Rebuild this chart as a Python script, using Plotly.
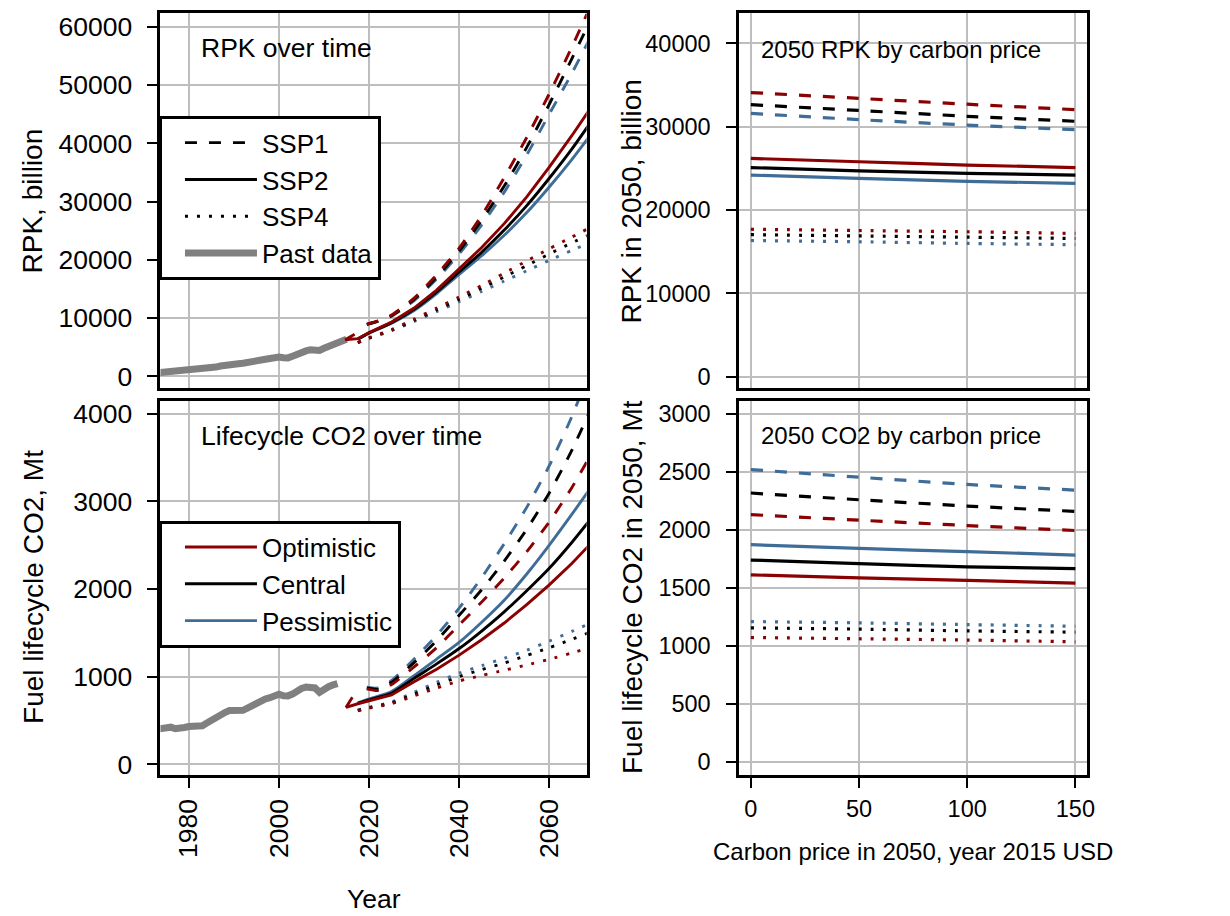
import plotly.graph_objects as go

# ---------------- data ----------------
past_years_rpk = list(range(1973, 2016))
past_rpk = [580, 640, 690, 750, 820, 900, 980, 1020, 1080, 1130, 1200, 1380, 1480, 1580,
            1760, 1920, 2050, 2150, 2130, 2220, 2300, 2450, 2620, 2780, 2920, 3050, 3200,
            3310, 3180, 3150, 3450, 3850, 4130, 4350, 4550, 4520, 4440, 4800, 5120, 5400,
            5700, 6000, 6350]
past_years_co2 = list(range(1973, 2014))
past_co2 = [400, 405, 410, 423, 405, 405, 420, 430, 428, 428, 440, 470, 505, 540, 565, 590,
            612, 610, 598, 615, 640, 670, 700, 725, 745, 760, 780, 800, 782, 780, 800, 835,
            865, 880, 885, 870, 820, 865, 885, 905, 920]

years_ssp1 = [2019.5, 2022, 2025, 2030, 2035, 2040, 2045, 2050, 2055, 2060, 2065, 2070]
years_ssp2 = [2017.5, 2020, 2025, 2030, 2035, 2040, 2045, 2050, 2055, 2060, 2065, 2070]
years_ssp4 = [2017.5, 2020, 2025, 2030, 2035, 2040, 2045, 2050, 2055, 2060, 2065, 2070]
hook_years_rpk = [2016.8, 2014.7]
hook_rpk = [7200, 6270]
hook_years_co2 = [2016.3, 2014.9]
hook_co2 = [765, 650]

# RPK over time (billion)
rpk_ssp1 = {
    "Optimistic": [8950, 9500, 10500, 13400, 17400, 22000, 27600, 34100, 41000, 48500, 56500, 65000],
    "Central": [8900, 9450, 10400, 13200, 17000, 21500, 26800, 32650, 39300, 46700, 54500, 62500],
    "Pessimistic": [8850, 9400, 10300, 13000, 16700, 21000, 26000, 31600, 38000, 45000, 52000, 59500],
}
rpk_ssp2 = {
    "Optimistic": [6450, 7500, 9300, 11700, 14800, 18400, 22100, 26200, 30800, 35900, 41300, 47000],
    "Central": [6400, 7450, 9200, 11500, 14500, 17900, 21300, 25100, 29300, 34000, 39000, 44500],
    "Pessimistic": [6350, 7400, 9100, 11300, 14200, 17500, 20700, 24200, 28100, 32500, 37200, 42300],
}
rpk_ssp4 = {
    "Optimistic": [5800, 6600, 8000, 9800, 11700, 13600, 15600, 17700, 19800, 21900, 23900, 25900],
    "Central": [5780, 6550, 7900, 9600, 11400, 13200, 15100, 17050, 19000, 21000, 22900, 24700],
    "Pessimistic": [5750, 6500, 7800, 9400, 11100, 12800, 14550, 16350, 18100, 19900, 21600, 23300],
}
# Lifecycle CO2 over time (Mt)
co2_ssp1 = {
    "Optimistic": [860, 840, 910, 1110, 1330, 1590, 1850, 2125, 2425, 2765, 3155, 3600],
    "Central": [870, 855, 935, 1160, 1410, 1700, 1990, 2318, 2680, 3095, 3580, 4140],
    "Pessimistic": [880, 870, 955, 1200, 1470, 1780, 2130, 2515, 2930, 3405, 3965, 4615],
}
co2_ssp2 = {
    "Optimistic": [690, 725, 790, 940, 1085, 1245, 1420, 1611, 1820, 2046, 2290, 2560],
    "Central": [695, 735, 810, 980, 1145, 1320, 1520, 1739, 1980, 2236, 2530, 2850],
    "Pessimistic": [700, 745, 830, 1010, 1200, 1390, 1620, 1871, 2170, 2500, 2850, 3210],
}
co2_ssp4 = {
    "Optimistic": [610, 640, 690, 780, 870, 950, 1012, 1072, 1133, 1197, 1270, 1345],
    "Central": [615, 645, 700, 800, 905, 1000, 1080, 1155, 1240, 1329, 1425, 1525],
    "Pessimistic": [620, 650, 710, 820, 935, 1040, 1125, 1209, 1300, 1405, 1515, 1630],
}

carbon_price = [0, 50, 100, 150]
rpk2050_ssp1 = {"Optimistic": [34100, 33400, 32700, 32050], "Central": [32650, 31950, 31250, 30650],
                "Pessimistic": [31600, 30850, 30200, 29650]}
rpk2050_ssp2 = {"Optimistic": [26200, 25800, 25400, 25100], "Central": [25100, 24700, 24400, 24200],
                "Pessimistic": [24200, 23800, 23450, 23200]}
rpk2050_ssp4 = {"Optimistic": [17700, 17550, 17400, 17200], "Central": [17050, 16900, 16750, 16600],
                "Pessimistic": [16350, 16200, 16000, 15850]}
co22050_ssp1 = {"Optimistic": [2130, 2082, 2036, 1993], "Central": [2316, 2258, 2204, 2158],
                "Pessimistic": [2518, 2452, 2390, 2341]}
co22050_ssp2 = {"Optimistic": [1611, 1585, 1563, 1540], "Central": [1739, 1708, 1680, 1665],
                "Pessimistic": [1871, 1839, 1811, 1782]}
co22050_ssp4 = {"Optimistic": [1072, 1061, 1050, 1035], "Central": [1155, 1144, 1129, 1118],
                "Pessimistic": [1209, 1198, 1183, 1169]}

year_ticks = [1980, 2000, 2020, 2040, 2060]
rpk_ticks = [0, 10000, 20000, 30000, 40000, 50000, 60000]
co2_ticks = [0, 1000, 2000, 3000, 4000]
rpk2050_ticks = [0, 10000, 20000, 30000, 40000]
co22050_ticks = [0, 500, 1000, 1500, 2000, 2500, 3000]
price_ticks = [0, 50, 100, 150]

# ---------------- styles ----------------
FONT = "Liberation Sans, Arial, Helvetica, sans-serif"
COLORS = {"Optimistic": "#8B0000", "Central": "#000000", "Pessimistic": "#3F6D97"}
DASH = {"SSP1": "12px,12px", "SSP2": "solid", "SSP4": "3px,9px"}
LW = 2.9
LW_R = 3.2
W, H = 1230, 916
order = ["Pessimistic", "Central", "Optimistic"]

fig = go.Figure()


def add_line(x, y, xa, ya, color, dash, width=LW, shape="spline"):
    fig.add_trace(go.Scatter(x=x, y=y, xaxis=xa, yaxis=ya, mode="lines",
                             line=dict(color=color, dash=dash, width=width, shape=shape, smoothing=0.6),
                             showlegend=False, hoverinfo="skip"))


# past data
fig.add_trace(go.Scatter(x=past_years_rpk, y=past_rpk, xaxis="x", yaxis="y", mode="lines",
                         line=dict(color="#808080", width=7), name="Past data",
                         legend="legend", legendrank=4, showlegend=True))
fig.add_trace(go.Scatter(x=past_years_co2, y=past_co2, xaxis="x3", yaxis="y3", mode="lines",
                         line=dict(color="#808080", width=7), showlegend=False))

# time series panels
for sc in order:
    c = COLORS[sc]
    add_line(years_ssp4, rpk_ssp4[sc], "x", "y", c, DASH["SSP4"])
    add_line(years_ssp1, rpk_ssp1[sc], "x", "y", c, DASH["SSP1"])
    if sc == "Optimistic":
        add_line(hook_years_rpk + years_ssp2, hook_rpk + rpk_ssp2[sc], "x", "y", c, DASH["SSP2"], shape="linear")
    else:
        add_line(years_ssp2, rpk_ssp2[sc], "x", "y", c, DASH["SSP2"])
for sc in order:
    c = COLORS[sc]
    add_line(years_ssp4, co2_ssp4[sc], "x3", "y3", c, DASH["SSP4"])
    add_line(years_ssp1, co2_ssp1[sc], "x3", "y3", c, DASH["SSP1"])
    if sc == "Optimistic":
        add_line(hook_years_co2 + years_ssp2, hook_co2 + co2_ssp2[sc], "x3", "y3", c, DASH["SSP2"], shape="linear")
    else:
        add_line(years_ssp2, co2_ssp2[sc], "x3", "y3", c, DASH["SSP2"])

# carbon price panels
for sc in order:
    c = COLORS[sc]
    add_line(carbon_price, rpk2050_ssp1[sc], "x2", "y2", c, DASH["SSP1"], width=LW_R)
    add_line(carbon_price, rpk2050_ssp2[sc], "x2", "y2", c, DASH["SSP2"], width=LW_R)
    add_line(carbon_price, rpk2050_ssp4[sc], "x2", "y2", c, DASH["SSP4"], width=LW_R)
    add_line(carbon_price, co22050_ssp1[sc], "x4", "y4", c, DASH["SSP1"], width=LW_R)
    add_line(carbon_price, co22050_ssp2[sc], "x4", "y4", c, DASH["SSP2"], width=LW_R)
    add_line(carbon_price, co22050_ssp4[sc], "x4", "y4", c, DASH["SSP4"], width=LW_R)

# legend entries
for i, (nm, dsh) in enumerate([("SSP1", DASH["SSP1"]), ("SSP2", DASH["SSP2"]), ("SSP4", DASH["SSP4"])]):
    fig.add_trace(go.Scatter(x=[None], y=[None], xaxis="x", yaxis="y", mode="lines", name=nm,
                             line=dict(color="black", dash=dsh, width=LW), legend="legend",
                             legendrank=i + 1, showlegend=True))
for i, sc in enumerate(["Optimistic", "Central", "Pessimistic"]):
    fig.add_trace(go.Scatter(x=[None], y=[None], xaxis="x3", yaxis="y3", mode="lines", name=sc,
                             line=dict(color=COLORS[sc], width=LW), legend="legend2",
                             legendrank=i + 1, showlegend=True))

# ---------------- layout ----------------
xl = [161.5 / W, 590.5 / W]
xr = [744.2 / W, 1094.2 / W]
yt = [1 - 388.5 / H, 1 - 11.5 / H]
yb = [1 - 778.5 / H, 1 - 401.5 / H]


def axis(domain, rng, tickvals, size, show_labels=True, anchor=None, tickangle=None, standoff=0):
    d = dict(domain=domain, range=rng, tickvals=tickvals, ticktext=[str(v) for v in tickvals],
             showline=True, linecolor="black", linewidth=3, mirror=True,
             showgrid=True, gridcolor="#BEBEBE", gridwidth=1.6, zeroline=False,
             ticks="outside" if show_labels else "", ticklen=10, tickwidth=1.5, tickcolor="black",
             showticklabels=show_labels, tickfont=dict(size=size, color="black", family=FONT),
             anchor=anchor, fixedrange=True)
    if standoff:
        d["ticklabelstandoff"] = standoff
        d["ticklabelposition"] = "outside"
    if tickangle is not None:
        d["tickangle"] = tickangle
    return d


LS = 26.5
RS = 23.5
LEG = 26
fig.update_layout(
    width=W, height=H, margin=dict(l=0, r=0, t=0, b=0),
    paper_bgcolor="white", plot_bgcolor="white",
    font=dict(family=FONT, color="black"),
    xaxis=axis(xl, [1973.7, 2068.3], year_ticks, LS, show_labels=False, anchor="y"),
    yaxis=axis(yt, [-2013, 62300], rpk_ticks, LS, anchor="x", standoff=10),
    xaxis2=axis(xr, [-5.3, 155.4], price_ticks, RS, show_labels=False, anchor="y2"),
    yaxis2=axis(yt, [-1335, 43590], rpk2050_ticks, RS, anchor="x2", standoff=11),
    xaxis3=axis(xl, [1973.7, 2068.3], year_ticks, LS, anchor="y3", tickangle=-90),
    yaxis3=axis(yb, [-127, 4145], co2_ticks, LS, anchor="x3", standoff=10),
    xaxis4=axis(xr, [-5.3, 155.4], price_ticks, RS, anchor="y4"),
    yaxis4=axis(yb, [-115.5, 3109.5], co22050_ticks, RS, anchor="x4", standoff=11),
    legend=dict(x=160 / W, y=1 - 115 / H, xanchor="left", yanchor="top", bgcolor="white",
                bordercolor="black", borderwidth=3, font=dict(size=LEG, family=FONT, color="black"),
                itemwidth=72, indentation=18, traceorder="normal"),
    legend2=dict(x=160 / W, y=1 - 522 / H, xanchor="left", yanchor="top", bgcolor="white",
                 bordercolor="black", borderwidth=3, font=dict(size=LEG, family=FONT, color="black"),
                 itemwidth=72, indentation=18, traceorder="normal"),
    showlegend=True,
)

annots = [
    dict(text="RPK over time", x=200 / W, y=1 - 46.7 / H, xanchor="left", yanchor="middle", size=LS, angle=0),
    dict(text="Lifecycle CO2 over time", x=200 / W, y=1 - 436.7 / H, xanchor="left", yanchor="middle", size=LS, angle=0),
    dict(text="2050 RPK by carbon price", x=764 / W, y=1 - 48 / H, xanchor="left", yanchor="middle", size=RS + 0.5, angle=0),
    dict(text="2050 CO2 by carbon price", x=764 / W, y=1 - 436.7 / H, xanchor="left", yanchor="middle", size=RS + 0.5, angle=0),
    dict(text="RPK, billion", x=33 / W, y=1 - 200 / H, xanchor="center", yanchor="middle", size=28, angle=-90),
    dict(text="Fuel lifecycle CO2, Mt", x=33 / W, y=1 - 589 / H, xanchor="center", yanchor="middle", size=28, angle=-90),
    dict(text="RPK in 2050, billion", x=636 / W, y=1 - 201 / H, xanchor="center", yanchor="middle", size=28, angle=-90),
    dict(text="Fuel lifecycle CO2 in 2050, Mt", x=636 / W, y=1 - 589 / H, xanchor="center", yanchor="middle", size=28, angle=-90),
    dict(text="Year", x=376.5 / W, y=1 - 903 / H, xanchor="center", yanchor="middle", size=LS, angle=0),
    dict(text="Carbon price in 2050, year 2015 USD", x=919 / W, y=1 - 855 / H, xanchor="center", yanchor="middle", size=RS + 0.5, angle=0),
]
for a in annots:
    fig.add_annotation(text=a["text"], x=a["x"], y=a["y"], xref="paper", yref="paper",
                       xanchor=a["xanchor"], yanchor=a["yanchor"], textangle=a["angle"],
                       showarrow=False, font=dict(size=a["size"], family=FONT, color="black"))

fig.write_html("out.html")
